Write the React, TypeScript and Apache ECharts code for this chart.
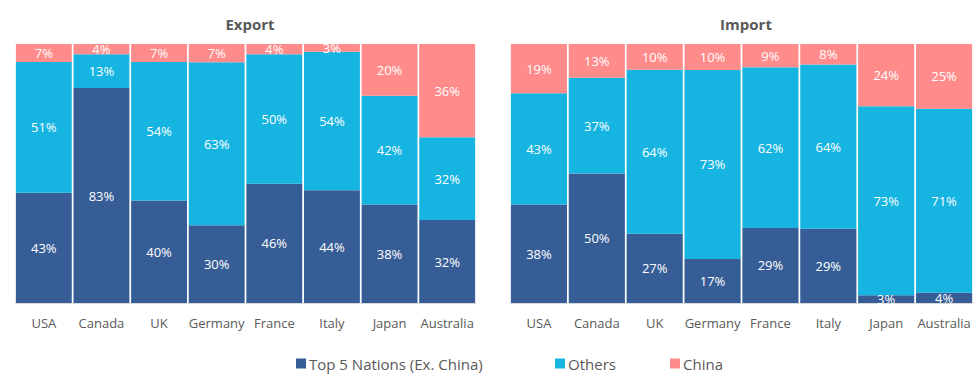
import React, { useEffect, useRef } from "react";
import * as echarts from "echarts";

const categories = ["USA", "Canada", "UK", "Germany", "France", "Italy", "Japan", "Australia"];
const seriesNames = ["Top 5 Nations (Ex. China)", "Others", "China"];

const exportTop5 = [43, 83, 40, 30, 46, 44, 38, 32];
const exportOthers = [51, 13, 54, 63, 50, 54, 42, 32];
const exportChina = [7, 4, 7, 7, 4, 3, 20, 36];

const importTop5 = [38, 50, 27, 17, 29, 29, 3, 4];
const importOthers = [43, 37, 64, 73, 62, 64, 73, 71];
const importChina = [19, 13, 10, 10, 9, 8, 24, 25];

const colors = ["#365D96", "#15B4E1", "#FF8B8B"];
const FONT = "'Open Sans', Lato, sans-serif";

function shares(sets: number[][]) {
  return sets.map((arr) =>
    arr.map((v, i) => {
      const total = sets.reduce((s, a) => s + a[i], 0);
      return { value: (v / total) * 100, raw: v };
    })
  );
}

export default function App() {
  const ref = useRef<HTMLDivElement>(null);
  useEffect(() => {
    if (!ref.current) return;
    const chart = echarts.init(ref.current, undefined, { renderer: "svg" });
    const exp = shares([exportTop5, exportOthers, exportChina]);
    const imp = shares([importTop5, importOthers, importChina]);
    const makeSeries = (data: any[][], idx: number, stack: string) =>
      data.map((d, k) => ({
        name: seriesNames[k],
        type: "bar",
        stack,
        xAxisIndex: idx,
        yAxisIndex: idx,
        barCategoryGap: "3%",
        data: d,
        itemStyle: { color: colors[k] },
        label: {
          show: true,
          position: "inside",
          color: "#fff",
          fontSize: 13,
          fontFamily: FONT,
          formatter: (p: any) => p.data.raw + "%",
        },
      }));
    const xAxisBase = (gridIndex: number) => ({
      type: "category",
      gridIndex,
      data: categories,
      axisLine: { lineStyle: { color: "#D9D9D9", width: 1 } },
      axisTick: { show: false },
      axisLabel: { color: "#595959", fontSize: 13, fontFamily: FONT, margin: 13, interval: 0 },
    });
    const yAxisBase = (gridIndex: number) => ({
      type: "value",
      gridIndex,
      min: 0,
      max: 100,
      show: false,
      splitLine: { show: false },
    });
    const legendBase = (name: string, left: number) => ({
      data: [name],
      left,
      top: 351,
      icon: "rect",
      itemWidth: 10,
      itemHeight: 10,
      itemGap: 4,
      textStyle: { color: "#595959", fontSize: 15, fontFamily: FONT, padding: [0, 0, 0, -2] },
    });
    chart.setOption({
      animation: false,
      color: colors,
      title: [
        { text: "Export", left: 245, top: 11, textAlign: "center", textStyle: { color: "#595959", fontSize: 15, fontWeight: "bold", fontFamily: FONT } },
        { text: "Import", left: 741, top: 11, textAlign: "center", textStyle: { color: "#595959", fontSize: 15, fontWeight: "bold", fontFamily: FONT } },
      ],
      legend: [
        legendBase(seriesNames[0], 291),
        legendBase(seriesNames[1], 550),
        legendBase(seriesNames[2], 665),
      ],
      grid: [
        { left: 15, right: 504, top: 44, bottom: 77 },
        { left: 510, right: 7, top: 44, bottom: 77 },
      ],
      xAxis: [xAxisBase(0), xAxisBase(1)],
      yAxis: [yAxisBase(0), yAxisBase(1)],
      series: [...makeSeries(exp, 0, "exp"), ...makeSeries(imp, 1, "imp")],
    });
    return () => chart.dispose();
  }, []);
  return <div ref={ref} style={{ width: 980, height: 380, position: "absolute", left: 0, top: 0 }} />;
}
